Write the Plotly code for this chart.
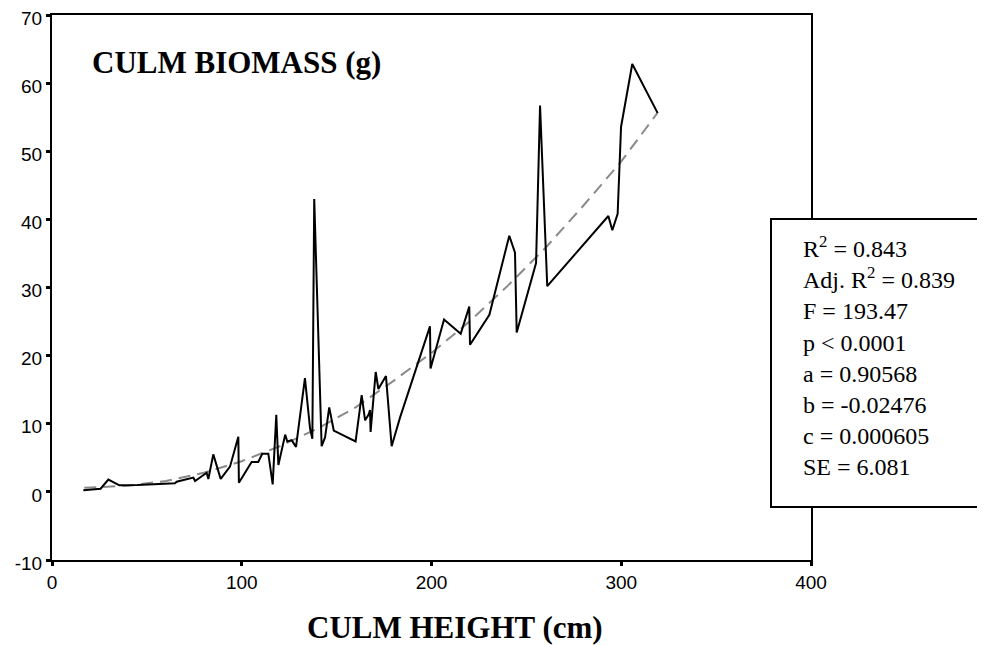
import plotly.graph_objects as go

height_cm = [16.5, 25.6, 29.7, 35.5, 45.0, 55.0, 64.8, 65.7, 74.5, 75.4, 81.5, 82.4,
             85.0, 88.9, 93.8, 98.2, 98.5, 105.2, 108.7, 110.8, 114.0, 116.3, 118.2,
             119.3, 122.9, 124.0, 126.3, 128.6, 133.3, 136.0, 137.2, 138.2, 142.1,
             143.9, 146.1, 148.5, 160.0, 163.2, 165.0, 166.8, 167.6, 167.9, 170.6,
             172.0, 176.0, 179.0, 183.4, 199.2, 199.5, 206.6, 215.4, 219.9, 220.3,
             230.5, 241.0, 244.0, 244.9, 255.1, 257.2, 261.0, 293.2, 295.3, 298.1,
             299.9, 305.8, 319.2]
biomass_g = [0.25, 0.47, 1.8, 0.97, 1.0, 1.15, 1.26, 1.5, 2.1, 1.6, 2.8, 1.9,
             5.5, 1.9, 3.7, 8.1, 1.35, 4.4, 4.4, 5.6, 5.6, 1.1, 11.3,
             3.95, 8.4, 7.4, 7.6, 6.6, 16.7, 9.3, 7.8, 43.0, 6.7,
             8.0, 12.4, 9.0, 7.4, 14.2, 10.5, 11.3, 12.0, 8.8, 17.6,
             15.1, 17.0, 6.7, 10.9, 24.3, 18.1, 25.3, 23.2, 27.2, 21.6,
             26.0, 37.6, 35.1, 23.4, 33.6, 56.7, 30.2, 40.5, 38.4, 40.8,
             53.6, 62.8, 55.6]

# Fitted curve (dashed)
fit_x = [17, 40, 60, 80, 100, 120, 140, 160, 180, 200, 220, 240, 260, 280, 300, 319]
fit_y = [0.6, 0.9, 1.6, 2.8, 4.5, 6.7, 9.3, 12.4, 16.3, 20.4, 25.0, 30.2, 35.8, 42.0, 48.5, 55.6]

stats_lines = ["R<sup>2</sup> = 0.843", "Adj. R<sup>2</sup> = 0.839", "F = 193.47",
               "p &lt; 0.0001", "a = 0.90568", "b = -0.02476", "c = 0.000605", "SE = 6.081"]

x_ticks = [0, 100, 200, 300, 400]
x_tick_text = ["0", "100", "200", "300", "400"]
y_ticks = [-10, 0, 10, 20, 30, 40, 50, 60, 70]
y_tick_text = ["-10", "0", "10", "20", "30", "40", "50", "60", "70"]

fig = go.Figure()
fig.add_trace(go.Scatter(x=fit_x, y=fit_y, mode="lines",
                         line=dict(color="#8a8a8a", width=2, dash="12px,7px"),
                         hoverinfo="skip", showlegend=False))
fig.add_trace(go.Scatter(x=height_cm, y=biomass_g, mode="lines",
                         line=dict(color="black", width=2), showlegend=False))

axis_common = dict(showgrid=False, zeroline=False, showline=True, linecolor="black",
                   linewidth=2, mirror=True, ticks="outside", ticklen=4, tickwidth=3,
                   tickcolor="black", automargin=False, ticklabeloverflow="allow",
                   tickfont=dict(family="Liberation Sans, Arial, sans-serif", size=19, color="black"))

fig.update_xaxes(range=[0, 400], tickvals=x_ticks, ticktext=x_tick_text, **axis_common)
fig.update_yaxes(range=[-10, 70], tickvals=y_ticks, ticktext=y_tick_text,
                 ticklabelshift=3, **axis_common)

fig.add_annotation(xref="paper", yref="paper", x=0.05, y=0.912, xanchor="left", yanchor="middle",
                   text="<b>CULM BIOMASS (g)</b>", showarrow=False,
                   font=dict(family="Liberation Serif, Times New Roman, serif", size=31, color="black"))
fig.add_annotation(xref="paper", yref="paper", x=0.531, y=-0.123, xanchor="center", yanchor="middle",
                   text="<b>CULM HEIGHT (cm)</b>", showarrow=False,
                   font=dict(family="Liberation Serif, Times New Roman, serif", size=31, color="black"))

fig.add_shape(type="rect", xref="paper", yref="paper", x0=0.9473, x1=1.2266, y0=0.0972, y1=0.6257,
              line=dict(color="black", width=2), fillcolor="white", layer="above")
fig.add_annotation(xref="paper", yref="paper", x=0.9868, y=0.3752, xanchor="left", yanchor="middle",
                   align="left", text="<br>".join(stats_lines), showarrow=False,
                   font=dict(family="Liberation Serif, Times New Roman, serif", size=24, color="black"))

fig.update_layout(width=977, height=637, margin=dict(l=44, r=174, t=7, b=85, autoexpand=False),
                  paper_bgcolor="white", plot_bgcolor="white")

fig.write_html("out.html")
